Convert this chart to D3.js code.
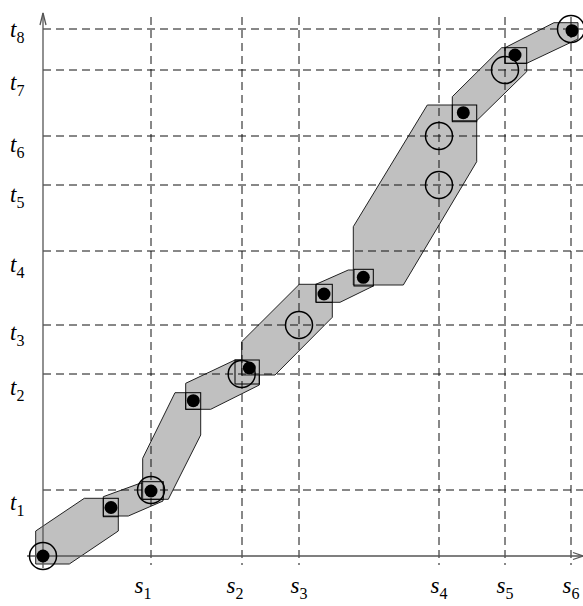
<!DOCTYPE html>
<html>
<head>
<meta charset="utf-8">
<script src="https://cdn.jsdelivr.net/npm/d3@7"></script>
<style>
  body { margin: 0; background: #fff; }
  text { font-family: "Liberation Serif", "Times New Roman", serif; }
</style>
</head>
<body>
<div id="chart-container"></div>
<script>
// grid positions along the two axes
var sNames = ["s1", "s2", "s3", "s4", "s5", "s6"];
var sValues = [108, 199, 256, 396, 462, 528];
var tNames = ["t1", "t2", "t3", "t4", "t5", "t6", "t7", "t8"];
var tValues = [66, 182, 231, 305, 371, 420, 486, 527];

// each band is the hull of two boxes [x0, x1, y0, y1]
var bands = [
  [[-7.3, 26.3, -8, 25], [41.3, 75.3, 25, 57.7]],
  [[60.3, 85.3, 40, 59.3], [97, 120, 55, 72.7]],
  [[99.7, 125.3, 56.7, 97.7], [132, 157.7, 121, 163.3]],
  [[142.7, 167.7, 146.7, 172.7], [192, 216.3, 171, 196]],
  [[198.7, 232, 181, 214.3], [256.3, 289.3, 238.7, 271.7]],
  [[273, 297, 253.7, 271.7], [305.3, 330.3, 270, 286]],
  [[310.3, 360.3, 271, 329.3], [384.3, 433.7, 394.3, 451]],
  [[409.3, 433.7, 435.3, 459.3], [458.7, 483.7, 484.3, 508.3]],
  [[462, 483.7, 492.7, 508.3], [511, 535, 517, 533.3]]
];

var dots = [[0, 0], [68, 48.5], [108, 65], [150.3, 155.3], [206.3, 188],
            [281, 262], [320.3, 278.7], [420.3, 443.3], [472, 501], [529, 525.3]];
var rings = [[0, 0], [108, 66], [198.7, 182], [256, 231], [396, 371],
             [396, 420], [462, 486], [528, 527]];
var boxes = [
  [60.3, 75.3, 39.3, 57.7], [98.7, 120.3, 56.7, 74.3], [142.7, 157.7, 146.7, 163.3],
  [192, 216.3, 172, 196], [273, 289.3, 253.7, 271.7], [311, 330.3, 270, 286.7],
  [409.3, 433.7, 434.3, 451], [462, 483.7, 492.7, 508.3]
];

var width = 583;
var height = 606;

var x = d3.scaleLinear().domain([0, 540]).range([43, 583]);
var y = d3.scaleLinear().domain([0, 543]).range([556, 13]);

var svg = d3.select('#chart-container')
            .append('svg')
            .attr('width', width)
            .attr('height', height);

function corners(b) {
  return [[b[0], b[2]], [b[0], b[3]], [b[1], b[2]], [b[1], b[3]]];
}

svg.selectAll('path.band')
   .data(bands)
   .enter()
   .append('path')
     .attr('class', 'band')
     .attr('d', function(d) {
       var hull = d3.polygonHull(corners(d[0]).concat(corners(d[1])));
       return 'M' + hull.map(function(p) { return x(p[0]) + ',' + y(p[1]); }).join('L') + 'Z';
     })
     .attr('fill', '#c0c0c0')
     .attr('stroke', '#222')
     .attr('stroke-width', 1);

// dashed grid
svg.selectAll('line.vgrid')
   .data(sValues)
   .enter()
   .append('line')
     .attr('x1', function(d) { return x(d); })
     .attr('x2', function(d) { return x(d); })
     .attr('y1', y(539))
     .attr('y2', y(-9))
     .attr('stroke', '#111')
     .attr('stroke-dasharray', '8,5');

svg.selectAll('line.hgrid')
   .data(tValues)
   .enter()
   .append('line')
     .attr('x1', x(0))
     .attr('x2', x(540))
     .attr('y1', function(d) { return y(d); })
     .attr('y2', function(d) { return y(d); })
     .attr('stroke', '#111')
     .attr('stroke-dasharray', '8,5');

// axes with open arrow heads
var axis = svg.append('g')
              .attr('fill', 'none')
              .attr('stroke', '#555')
              .attr('stroke-width', 1.3);
axis.append('line').attr('x1', x(0)).attr('x2', x(0)).attr('y1', y(-12)).attr('y2', y(543));
axis.append('path').attr('d', 'M' + (x(0) - 3) + ',' + (y(543) + 12) + 'L' + x(0) + ',' + y(543) + 'L' + (x(0) + 3) + ',' + (y(543) + 12));
axis.append('line').attr('x1', x(-16)).attr('x2', x(540)).attr('y1', y(0)).attr('y2', y(0));
axis.append('path').attr('d', 'M' + (x(540) - 10) + ',' + (y(0) - 3.5) + 'L' + x(540) + ',' + y(0) + 'L' + (x(540) - 10) + ',' + (y(0) + 3.5));

svg.selectAll('rect.box')
   .data(boxes)
   .enter()
   .append('rect')
     .attr('x', function(d) { return x(d[0]); })
     .attr('y', function(d) { return y(d[3]); })
     .attr('width', function(d) { return x(d[1]) - x(d[0]); })
     .attr('height', function(d) { return y(d[2]) - y(d[3]); })
     .attr('fill', 'none')
     .attr('stroke', '#000')
     .attr('stroke-width', 1);

svg.selectAll('circle.ring')
   .data(rings)
   .enter()
   .append('circle')
     .attr('cx', function(d) { return x(d[0]); })
     .attr('cy', function(d) { return y(d[1]); })
     .attr('r', 13.5)
     .attr('fill', 'none')
     .attr('stroke', '#000')
     .attr('stroke-width', 1.5);

svg.selectAll('circle.dot')
   .data(dots)
   .enter()
   .append('circle')
     .attr('cx', function(d) { return x(d[0]); })
     .attr('cy', function(d) { return y(d[1]); })
     .attr('r', 6.5)
     .attr('fill', '#000');

// labels: italic letter with an upright subscript
var tShift = [20, 21, 15, 21, 17, 16, 20, 8];
var sShift = [-8, -7, 0, 0, 0, 0];

function label(sel) {
  sel.append('tspan')
     .attr('font-style', 'italic')
     .attr('font-size', 23)
     .text(function(d) { return d.charAt(0); });
  sel.append('tspan')
     .attr('font-size', 16)
     .attr('dy', 6)
     .text(function(d) { return d.slice(1); });
}

svg.selectAll('text.t')
   .data(tNames)
   .enter()
   .append('text')
     .attr('x', 10)
     .attr('y', function(d, i) { return y(tValues[i]) + tShift[i]; })
     .call(label);

svg.selectAll('text.s')
   .data(sNames)
   .enter()
   .append('text')
     .attr('x', function(d, i) { return x(sValues[i]) + sShift[i]; })
     .attr('y', 593)
     .attr('text-anchor', 'middle')
     .call(label);
</script>
</body>
</html>
